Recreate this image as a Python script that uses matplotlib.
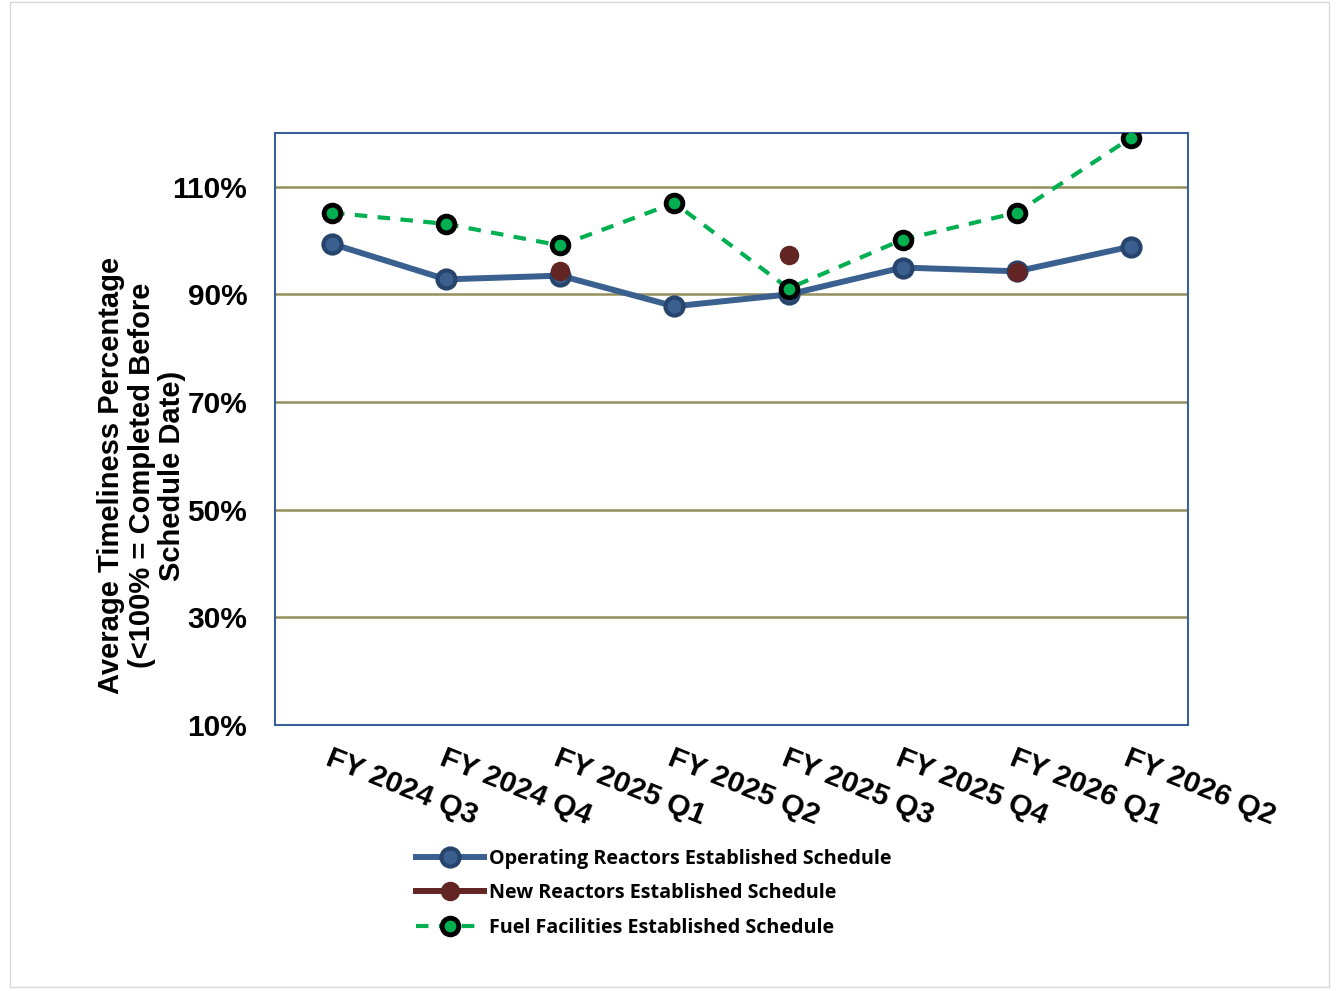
import matplotlib
matplotlib.use("Agg")
import matplotlib.pyplot as plt
from matplotlib.patches import Rectangle
from matplotlib.ticker import FuncFormatter
import numpy as np

quarters = ['FY 2024 Q3', 'FY 2024 Q4', 'FY 2025 Q1', 'FY 2025 Q2',
            'FY 2025 Q3', 'FY 2025 Q4', 'FY 2026 Q1', 'FY 2026 Q2']
operating = [99.4, 92.8, 93.5, 87.8, 90.0, 95.0, 94.3, 98.9]
new_reactors = [np.nan, np.nan, 94.4, np.nan, 97.4, np.nan, 94.1, np.nan]
fuel = [105.2, 103.1, 99.1, 107.0, 91.1, 100.2, 105.2, 119.1]

fig = plt.figure(figsize=(13.38, 9.91), dpi=100)
ax = fig.add_axes([0.2055, 0.2684, 0.6824, 0.5974])

x = np.arange(len(quarters))
ax.plot(x, operating, color='#3a6090', lw=4.3, marker='o', ms=13,
        mfc='#3a6090', mec='#26446c', mew=3, zorder=3,
        label='Operating Reactors Established Schedule')
ax.plot(x, new_reactors, color='#632523', lw=4.3, marker='o', ms=13,
        mfc='#632523', mec='#632523', zorder=4,
        label='New Reactors Established Schedule')
ax.plot(x, fuel, color='#00b050', lw=3, ls=(0, (3, 2.5)), marker='o', ms=12,
        mfc='#00b050', mec='black', mew=3.5, zorder=5,
        label='Fuel Facilities Established Schedule')

ax.set_xlim(-0.5, len(quarters) - 0.5)
ax.set_ylim(10, 120)
ax.set_yticks([10, 30, 50, 70, 90, 110])
ax.yaxis.set_major_formatter(FuncFormatter(lambda v, p: f'{v:.0f}%'))
ax.grid(axis='y', color='#948f5a', lw=1.8, zorder=0)
ax.set_axisbelow(True)
ax.tick_params(axis='y', length=0, pad=20, labelsize=21.5)
ax.tick_params(axis='x', length=0, pad=14)
for lab in ax.get_yticklabels():
    lab.set_fontweight('bold')
    lab.set_family('Liberation Sans')

ax.set_xticks(x)
ax.set_xticklabels(quarters, rotation=-22, ha='left', va='top',
                   rotation_mode='anchor', fontsize=21.5, fontweight='bold',
                   family='Liberation Sans')

for s in ax.spines.values():
    s.set_color('#3a5f9a')
    s.set_linewidth(1.5)

fig.text(0.106, 0.52, 'Average Timeliness Percentage\n(<100% = Completed Before\nSchedule Date)',
         rotation=90, ha='center', va='center', multialignment='center',
         fontsize=21, fontweight='bold', family='Liberation Sans', linespacing=1.12)

fig.legend(loc='upper left', bbox_to_anchor=(0.298, 0.161), frameon=False,
           prop={'family': 'Open Sans', 'weight': 'bold', 'size': 14.2},
           handlelength=3.4, handletextpad=0.3, labelspacing=0.72)

fig.patches.append(Rectangle((0.0075, 0.004), 0.986, 0.994, transform=fig.transFigure,
                             fill=False, edgecolor='#d9d9d9', lw=1))

fig.savefig('out.png', dpi=100)
